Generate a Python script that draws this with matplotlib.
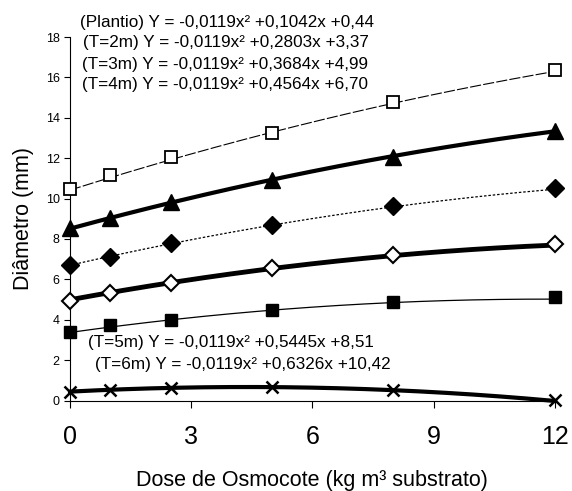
import numpy as np
import matplotlib
matplotlib.use("Agg")
import matplotlib.pyplot as plt

plt.rcParams['font.family'] = ['Liberation Sans', 'DejaVu Sans']

# Data
doses = [0, 1, 2.5, 5, 8, 12]
plantio = [0.44, 0.52, 0.60, 0.68, 0.52, 0.02]
t2m = [3.41, 3.74, 3.99, 4.48, 4.89, 5.12]
t3m = [4.94, 5.31, 5.83, 6.54, 7.20, 7.73]
t4m = [6.71, 7.12, 7.81, 8.69, 9.63, 10.50]
t5m = [8.52, 9.02, 9.84, 10.92, 12.07, 13.37]
t6m = [10.46, 11.16, 12.04, 13.25, 14.79, 16.38]

# fitted coefficients (a, b, c) from the equations on the chart
coef_plantio = (-0.0119, 0.1042, 0.44)
coef_t2m = (-0.0119, 0.2803, 3.37)
coef_t3m = (-0.0119, 0.3684, 4.99)
coef_t4m = (-0.0119, 0.4564, 6.70)
coef_t5m = (-0.0119, 0.5445, 8.51)
coef_t6m = (-0.0119, 0.6326, 10.42)

eq_top = ["(Plantio) Y = -0,0119x² +0,1042x +0,44",
          "(T=2m) Y = -0,0119x² +0,2803x +3,37",
          "(T=3m) Y = -0,0119x² +0,3684x +4,99",
          "(T=4m) Y = -0,0119x² +0,4564x +6,70"]
eq_bot = ["(T=5m) Y = -0,0119x² +0,5445x +8,51",
          "(T=6m) Y = -0,0119x² +0,6326x +10,42"]

xticks = [0, 3, 6, 9, 12]
yticks = [0, 2, 4, 6, 8, 10, 12, 14, 16, 18]

fig = plt.figure(figsize=(5.72, 4.91), dpi=100)
ax = fig.add_axes([0.1224, 0.1843, 0.8476, 0.7403])

xf = np.linspace(0, 12, 200)

def fit(c):
    return c[0] * xf ** 2 + c[1] * xf + c[2]

series = [
    (plantio, coef_plantio, dict(lw=3.0, ls='-'), dict(marker='x', ms=9, mew=1.8, mfc='black')),
    (t2m, coef_t2m, dict(lw=0.9, ls='-'), dict(marker='s', ms=9, mfc='black')),
    (t3m, coef_t3m, dict(lw=3.5, ls='-'), dict(marker='D', ms=8, mfc='white', mew=1.5)),
    (t4m, coef_t4m, dict(lw=0.9, ls=(0, (2, 1.5))), dict(marker='D', ms=9, mfc='black')),
    (t5m, coef_t5m, dict(lw=3.0, ls='-'), dict(marker='^', ms=11, mfc='black')),
    (t6m, coef_t6m, dict(lw=0.8, ls=(0, (10, 2))), dict(marker='s', ms=9, mfc='white', mew=1.3)),
]

for vals, c, lstyle, mstyle in series:
    ax.plot(xf, fit(c), color='black', clip_on=False, **lstyle)
    ax.plot(doses, vals, ls='none', color='black', mec='black', clip_on=False, zorder=5, **mstyle)

ax.set_xlim(0, 12)
ax.set_ylim(0, 18)
ax.set_xticks(xticks)
ax.set_yticks(yticks)
ax.set_xticklabels([str(t) for t in xticks], fontsize=18)
ax.set_yticklabels([str(t) for t in yticks], fontsize=9)
ax.tick_params(axis='x', direction='out', length=5, width=0.8, pad=12.5)
ax.tick_params(axis='y', direction='out', length=4, width=0.8, pad=3.5)
for s in ['top', 'right']:
    ax.spines[s].set_visible(False)
for s in ['left', 'bottom']:
    ax.spines[s].set_linewidth(0.8)

ax.set_ylabel('Diâmetro (mm)', fontsize=15.5, labelpad=8)
ax.set_xlabel('Dose de Osmocote (kg m³ substrato)', fontsize=15.5, labelpad=15)

top_y = [22, 43, 64, 84]
top_x = [80, 83, 82, 82]
for t, yy, xx in zip(eq_top, top_y, top_x):
    fig.text(xx / 572, 1 - yy / 491, t, fontsize=12.3, va='center', ha='left')
bot_y = [342, 364]
bot_x = [88, 95]
for t, yy, xx in zip(eq_bot, bot_y, bot_x):
    fig.text(xx / 572, 1 - yy / 491, t, fontsize=12.3, va='center', ha='left')

fig.savefig('out.png', dpi=100)
